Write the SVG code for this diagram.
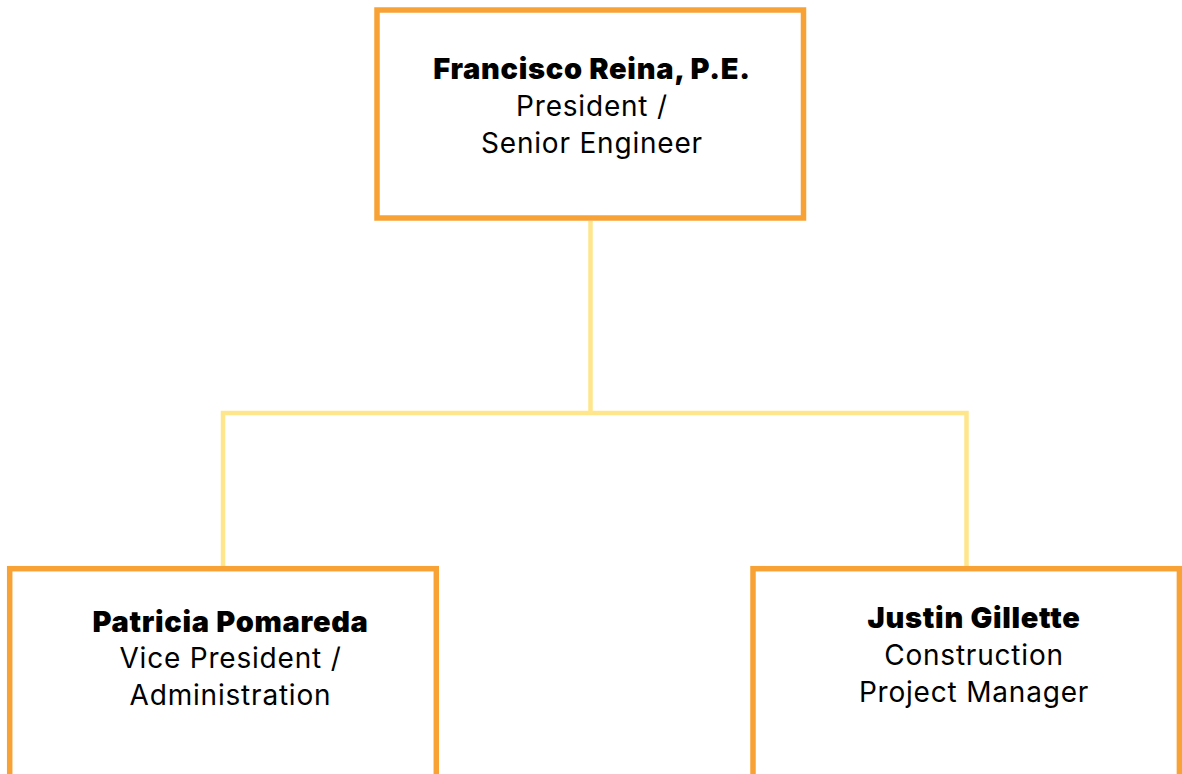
<svg xmlns="http://www.w3.org/2000/svg" width="1182" height="774" viewBox="0 0 1182 774">
<style>
.box{fill:#ffffff;stroke:#F8A236;stroke-width:5.5}
.conn{fill:none;stroke:#FFE68C;stroke-width:4.5}
text{font-family:Inter,"Noto Sans","Liberation Sans",sans-serif;fill:#000;text-anchor:middle}
.name{font-weight:900;font-size:29px;letter-spacing:0.7px}
.role{font-weight:400;font-size:28px;letter-spacing:0.8px}
</style>
<rect width="1182" height="774" fill="#ffffff"/>
<g id="connectors">
<path class="conn" d="M590.5 221 V413"/>
<path class="conn" d="M223 566 V413 H966.5 V566"/>
</g>
<g id="node-francisco">
<rect class="box" x="377" y="10" width="426.5" height="208"/>
<text class="name" x="592" y="79">Francisco Reina, P.E.</text>
<text class="role" x="592" y="115.5">President /</text>
<text class="role" x="592" y="153">Senior Engineer</text>
</g>
<g id="node-patricia">
<rect class="box" x="9.7" y="568.7" width="426.6" height="220"/>
<text class="name" x="230.5" y="631.5">Patricia Pomareda</text>
<text class="role" x="230.5" y="668">Vice President /</text>
<text class="role" x="230.5" y="705">Administration</text>
</g>
<g id="node-justin">
<rect class="box" x="753" y="568.7" width="426.4" height="220"/>
<text class="name" x="974" y="628">Justin Gillette</text>
<text class="role" x="974" y="665">Construction</text>
<text class="role" x="974" y="701.5">Project Manager</text>
</g>
</svg>
